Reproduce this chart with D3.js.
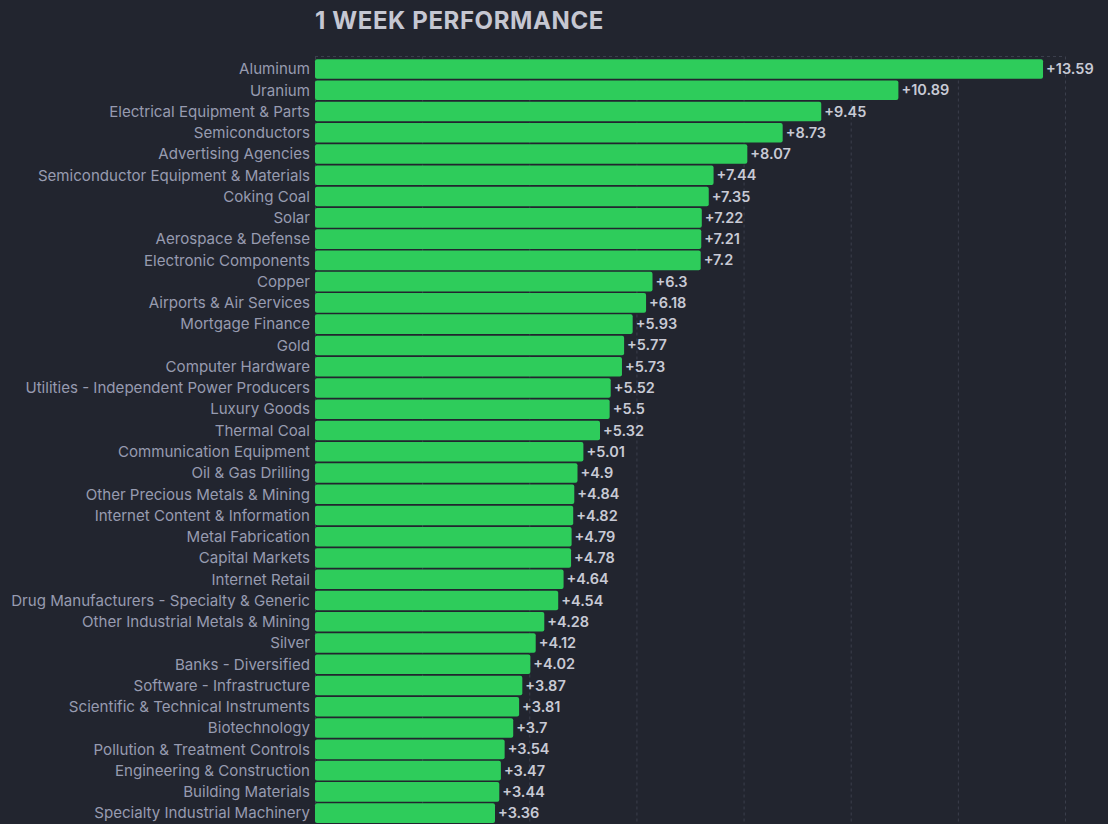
<!DOCTYPE html>
<html>
<head>
    <title>1 Week Performance</title>
    <script src="https://d3js.org/d3.v7.min.js"></script>
    <style>
        html, body { margin: 0; padding: 0; background: #22252f; overflow: hidden; }
    </style>
</head>
<body>
    <script>
        var categories = ["Aluminum", "Uranium", "Electrical Equipment & Parts", "Semiconductors",
            "Advertising Agencies", "Semiconductor Equipment & Materials", "Coking Coal", "Solar",
            "Aerospace & Defense", "Electronic Components", "Copper", "Airports & Air Services",
            "Mortgage Finance", "Gold", "Computer Hardware", "Utilities - Independent Power Producers",
            "Luxury Goods", "Thermal Coal", "Communication Equipment", "Oil & Gas Drilling",
            "Other Precious Metals & Mining", "Internet Content & Information", "Metal Fabrication",
            "Capital Markets", "Internet Retail", "Drug Manufacturers - Specialty & Generic",
            "Other Industrial Metals & Mining", "Silver", "Banks - Diversified", "Software - Infrastructure",
            "Scientific & Technical Instruments", "Biotechnology", "Pollution & Treatment Controls",
            "Engineering & Construction", "Building Materials", "Specialty Industrial Machinery"];

        var values = [13.59, 10.89, 9.45, 8.73, 8.07, 7.44, 7.35, 7.22, 7.21, 7.2, 6.3, 6.18,
            5.93, 5.77, 5.73, 5.52, 5.5, 5.32, 5.01, 4.9, 4.84, 4.82, 4.79, 4.78, 4.64, 4.54,
            4.28, 4.12, 4.02, 3.87, 3.81, 3.7, 3.54, 3.47, 3.44, 3.36];

        var xTicks = [0, 2, 4, 6, 8, 10, 12, 14];

        var width = 1108, height = 824;
        var plotLeft = 315, plotRight = 1065, plotTop = 56.5;
        var step = 21.26;

        var svg = d3.select("body")
            .append("svg")
            .attr("width", width)
            .attr("height", height);

        var x = d3.scaleLinear()
            .domain([0, 14])
            .range([plotLeft, plotRight]);

        var y = d3.scaleBand()
            .domain(categories)
            .range([plotTop + 1.9, plotTop + 1.9 + categories.length * step])
            .paddingInner(0.08)
            .paddingOuter(0.04);

        // grid
        svg.append("g")
            .selectAll("line")
            .data(xTicks)
            .join("line")
            .attr("x1", function(d) { return x(d) + 0.5; })
            .attr("x2", function(d) { return x(d) + 0.5; })
            .attr("y1", plotTop)
            .attr("y2", height)
            .attr("stroke", "#3b3f4c")
            .attr("stroke-dasharray", "3,3");

        svg.append("line")
            .attr("x1", plotLeft)
            .attr("x2", plotRight)
            .attr("y1", plotTop)
            .attr("y2", plotTop)
            .attr("stroke", "#3b3f4c")
            .attr("stroke-dasharray", "3,3");

        // title
        svg.append("text")
            .attr("x", plotLeft)
            .attr("y", 28.7)
            .attr("fill", "#c5c7d2")
            .style("font-family", "Inter, sans-serif")
            .style("font-weight", "bold")
            .style("font-size", "24px")
            .style("letter-spacing", "0.6px")
            .text("1 WEEK PERFORMANCE");

        var rows = svg.append("g")
            .selectAll("g")
            .data(categories)
            .join("g");

        rows.append("rect")
            .attr("x", x(0))
            .attr("y", function(d) { return y(d); })
            .attr("width", function(d, i) { return x(values[i]) - x(0); })
            .attr("height", y.bandwidth())
            .attr("rx", 2)
            .attr("fill", "#2ecc5b");

        rows.append("text")
            .attr("x", plotLeft - 5)
            .attr("y", function(d) { return y(d) + y.bandwidth() / 2; })
            .attr("dy", "0.35em")
            .attr("text-anchor", "end")
            .attr("fill", "#979bb0")
            .style("font-family", "Inter, sans-serif")
            .style("font-size", "15.1px")
            .text(function(d) { return d; });

        rows.append("text")
            .attr("x", function(d, i) { return x(values[i]) + 3; })
            .attr("y", function(d) { return y(d) + y.bandwidth() / 2; })
            .attr("dy", "0.35em")
            .attr("fill", "#c8cad5")
            .style("font-family", "Inter, sans-serif")
            .style("font-weight", "600")
            .style("font-size", "14.5px")
            .text(function(d, i) { return "+" + values[i]; });
    </script>
</body>
</html>
